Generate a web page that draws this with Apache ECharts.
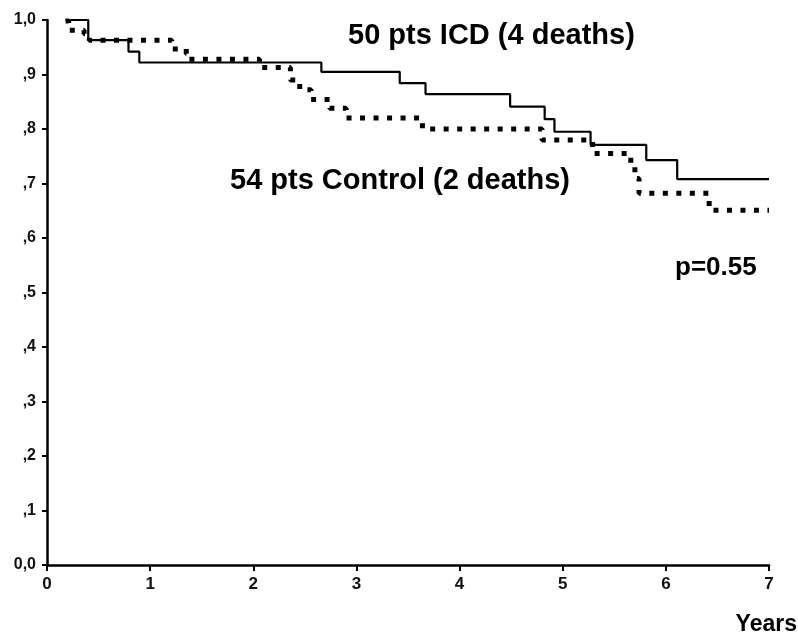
<!DOCTYPE html>
<html>
<head>
<meta charset="utf-8">
<script src="https://cdn.jsdelivr.net/npm/echarts@6/dist/echarts.min.js"></script>
<style>html,body{margin:0;padding:0;background:#fff}#c{width:798px;height:637px}</style>
</head>
<body>
<div id="c"></div>
<script>
// Kaplan-Meier step data (years, survival)
const icdTimes     = [0.18, 0.40, 0.79, 0.895, 2.66, 3.42, 3.67, 4.49, 4.825, 4.92, 5.27, 5.81, 6.11, 7.0];
const icdSurv      = [1.000, 0.963, 0.942, 0.922, 0.905, 0.884, 0.864, 0.841, 0.818, 0.795, 0.771, 0.743, 0.708, 0.708];
const controlTimes = [0.18, 0.21, 0.36, 0.41, 1.21, 1.35, 1.37, 2.06, 2.36, 2.45, 2.56, 2.74, 2.90, 3.64, 4.80, 5.29, 5.66, 5.70, 5.74, 6.42, 7.0];
const controlSurv  = [0.998, 0.981, 0.975, 0.963, 0.947, 0.938, 0.928, 0.913, 0.890, 0.872, 0.854, 0.838, 0.820, 0.800, 0.780, 0.755, 0.731, 0.709, 0.682, 0.651, 0.651];
const xTicks = [0, 1, 2, 3, 4, 5, 6, 7];
const yTickLabels = {"1.0":"1,0","0.9":",9","0.8":",8","0.7":",7","0.6":",6","0.5":",5","0.4":",4","0.3":",3","0.2":",2","0.1":",1","0.0":"0,0"};
const icdLabel = "50 pts ICD (4 deaths)";
const controlLabel = "54 pts Control (2 deaths)";
const pLabel = "p=0.55";
const xName = "Years";

const zip = (a, b) => a.map((v, i) => [v, b[i]]);
const chart = echarts.init(document.getElementById('c'), null, {renderer: 'canvas'});
const font = "'Liberation Sans', Arial, sans-serif";
chart.setOption({
  animation: false,
  backgroundColor: '#fff',
  grid: {left: 47, right: 29, top: 20, bottom: 72, containLabel: false},
  xAxis: {
    type: 'value', min: 0, max: 7, interval: 1,
    axisLine: {show: true, lineStyle: {color: '#000', width: 2.5}},
    axisTick: {show: true, inside: false, length: 6, lineStyle: {color: '#000', width: 2}},
    axisLabel: {color: '#111', fontFamily: font, fontWeight: 'bold', fontSize: 17, margin: 11,
      formatter: v => xTicks.includes(v) ? String(v) : ''},
    splitLine: {show: false}
  },
  yAxis: {
    type: 'value', min: 0, max: 1, interval: 0.1,
    axisLine: {show: true, lineStyle: {color: '#000', width: 2.5}},
    axisTick: {show: true, inside: false, length: 5, lineStyle: {color: '#000', width: 2}},
    axisLabel: {color: '#111', fontFamily: font, fontWeight: 'bold', fontSize: 16, margin: 11,
      formatter: v => yTickLabels[v.toFixed(1)] || ''},
    splitLine: {show: false}
  },
  series: [
    {
      name: 'ICD', type: 'line', step: 'end', showSymbol: false, symbol: 'none',
      data: zip(icdTimes, icdSurv),
      lineStyle: {color: '#000', width: 2.2}
    },
    {
      name: 'Control', type: 'line', step: 'end', showSymbol: false, symbol: 'none',
      data: zip(controlTimes, controlSurv),
      lineStyle: {color: '#000', width: 5, type: [5, 8.5], cap: 'butt'}
    }
  ],
  graphic: [
    {type: 'text', left: 348, top: 21, style: {text: icdLabel, font: "bold 29px " + font, fill: '#000'}, z: 10},
    {type: 'text', left: 230, top: 166, style: {text: controlLabel, font: "bold 29px " + font, fill: '#000'}, z: 10},
    {type: 'text', left: 675, top: 255, style: {text: pLabel, font: "bold 26px " + font, fill: '#000'}, z: 10},
    {type: 'text', right: 1, top: 613, style: {text: xName, font: "bold 23px " + font, fill: '#000'}, z: 10}
  ]
});
</script>
</body>
</html>
